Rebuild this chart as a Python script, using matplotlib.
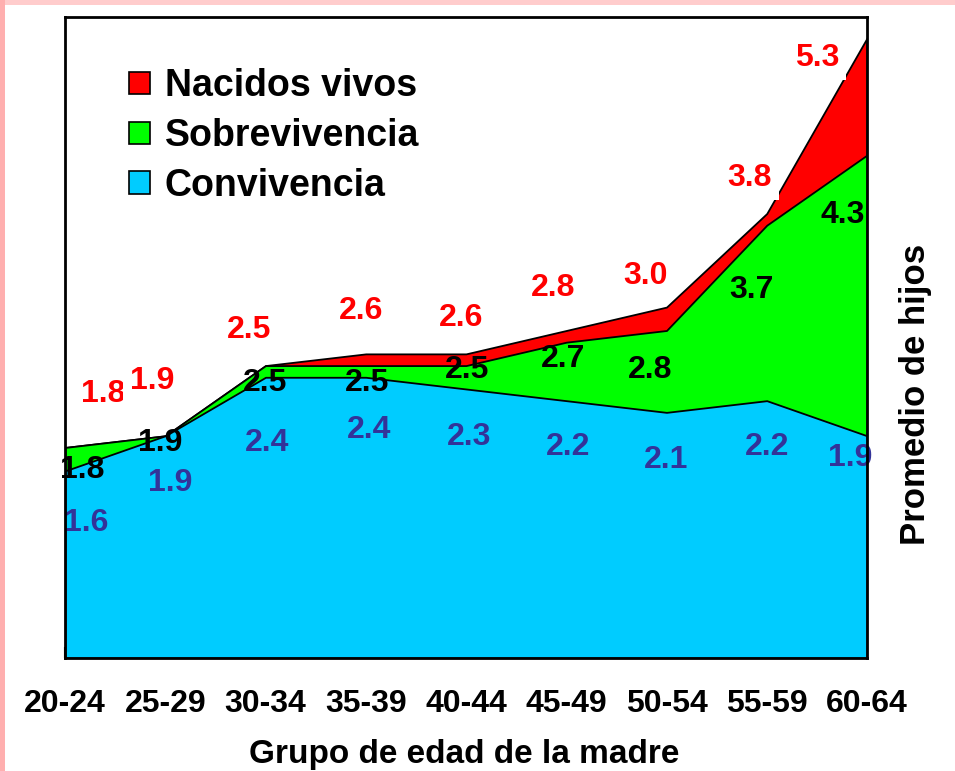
import matplotlib
matplotlib.use("Agg")
import matplotlib.pyplot as plt
from matplotlib.patches import Rectangle, Patch
import numpy as np

plt.rcParams['font.family'] = ['Liberation Sans', 'DejaVu Sans']
plt.rcParams['font.weight'] = 'bold'

categories = ["20-24", "25-29", "30-34", "35-39", "40-44", "45-49", "50-54", "55-59", "60-64"]
nacidos_vivos = [1.8, 1.9, 2.5, 2.6, 2.6, 2.8, 3.0, 3.8, 5.3]
sobrevivencia = [1.8, 1.9, 2.5, 2.5, 2.5, 2.7, 2.8, 3.7, 4.3]
convivencia = [1.6, 1.9, 2.4, 2.4, 2.3, 2.2, 2.1, 2.2, 1.9]

# label anchor positions (data coords)
red_lab_x = [0.38, 0.87, 1.84, 2.95, 3.95, 4.87, 5.79, 6.83, 7.50]
red_lab_y = [2.26, 2.37, 2.80, 2.97, 2.91, 3.16, 3.27, 4.10, 5.13]
blk_lab_x = [0.17, 0.95, 2.0, 3.01, 4.01, 4.97, 5.84, 6.85, 7.76]
blk_lab_y = [1.61, 1.84, 2.35, 2.35, 2.46, 2.56, 2.46, 3.15, 3.79]
blu_lab_x = [0.21, 1.05, 2.02, 3.03, 4.03, 5.02, 6.0, 7.0, 7.83]
blu_lab_y = [1.15, 1.50, 1.84, 1.95, 1.89, 1.80, 1.69, 1.80, 1.71]

RED = "#FF0000"
GREEN = "#00FF00"
BLUE = "#00CCFF"
LBLUE = "#333399"

fig = plt.figure(figsize=(9.55, 7.71), dpi=100)
fig.patch.set_facecolor("white")
fig.patches.append(Rectangle((0, 1 - 5/771), 1, 5/771, transform=fig.transFigure,
                             facecolor="#FFCCCC", edgecolor="none", zorder=0))
fig.patches.append(Rectangle((0, 0), 5/955, 1, transform=fig.transFigure,
                             facecolor="#FFAFAF", edgecolor="none", zorder=0))

ax = fig.add_axes([65/955, (771-658)/771, (867-65)/955, (658-17)/771])
x = np.arange(len(categories))

ax.fill_between(x, 0, nacidos_vivos, facecolor=RED, edgecolor="black", linewidth=1.3, zorder=1)
ax.fill_between(x, 0, sobrevivencia, facecolor=GREEN, edgecolor="black", linewidth=1.3, zorder=2)
ax.fill_between(x, 0, convivencia, facecolor=BLUE, edgecolor="black", linewidth=1.3, zorder=3)

ax.set_xlim(0, len(categories) - 1)
ax.set_ylim(0, 5.48)
ax.set_yticks([])
ax.set_xticks(x)
ax.set_xticklabels(categories, fontsize=23, fontweight="bold")
ax.tick_params(axis="x", direction="in", length=8, width=1.5, pad=22)
for s in ax.spines.values():
    s.set_linewidth(2)
    s.set_zorder(10)

fig.text(464/955, 1 - 755/771, "Grupo de edad de la madre", fontsize=24,
         fontweight="bold", ha="center", va="center")

for v, lx, ly in zip(nacidos_vivos, red_lab_x, red_lab_y):
    ax.text(lx, ly, f"{v:.1f}", color=RED, fontsize=23, fontweight="bold",
            ha="center", va="center", zorder=6, clip_on=False,
            bbox=dict(boxstyle="square,pad=0.22", facecolor="white", edgecolor="none"))
for v, lx, ly in zip(sobrevivencia, blk_lab_x, blk_lab_y):
    ax.text(lx, ly, f"{v:.1f}", color="black", fontsize=23, fontweight="bold",
            ha="center", va="center", zorder=7, clip_on=False)
for v, lx, ly in zip(convivencia, blu_lab_x, blu_lab_y):
    ax.text(lx, ly, f"{v:.1f}", color=LBLUE, fontsize=23, fontweight="bold",
            ha="center", va="center", zorder=7, clip_on=False)

fig.text(915/955, 1 - 394/771, "Promedio de hijos", rotation=90, fontsize=25,
         fontweight="bold", ha="center", va="center")

handles = [Patch(facecolor=RED, edgecolor="black", linewidth=1.2),
           Patch(facecolor=GREEN, edgecolor="black", linewidth=1.2),
           Patch(facecolor=BLUE, edgecolor="black", linewidth=1.2)]
leg = ax.legend(handles, ["Nacidos vivos", "Sobrevivencia", "Convivencia"],
                loc="upper left", bbox_to_anchor=(0.08, 0.92), frameon=False,
                prop={"size": 27, "weight": "bold"}, handlelength=0.55, handleheight=0.55,
                handletextpad=0.4, labelspacing=0.37, borderaxespad=0, borderpad=0)
leg.set_zorder(8)

fig.savefig("out.png", dpi=100)
